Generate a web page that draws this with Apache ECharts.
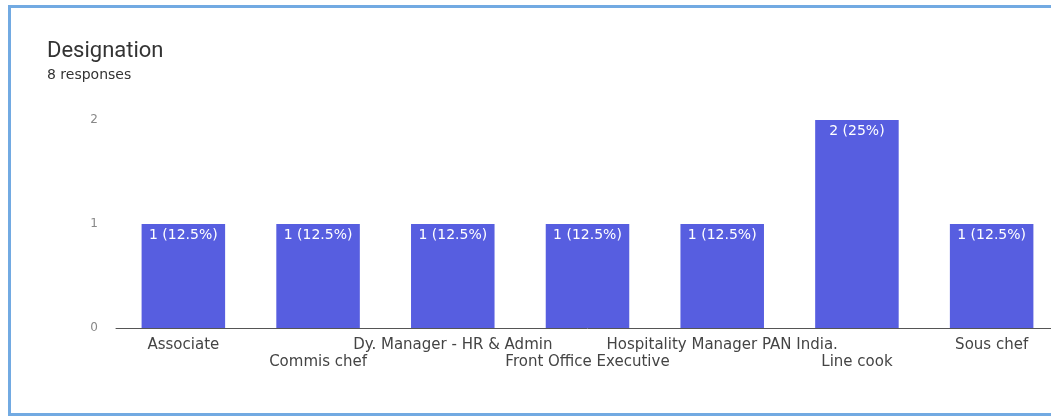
<!DOCTYPE html>
<html>
<head>
<meta charset="utf-8">
<script src="https://cdn.jsdelivr.net/npm/echarts@6/dist/echarts.min.js"></script>
<style>
  html, body { margin: 0; padding: 0; background: #fff; overflow: hidden; width: 1051px; height: 418px; }
  /* the card is cut off on the right in the screenshot, so the canvas runs a bit past the window */
  #chart { width: 1059px; height: 418px; }
</style>
</head>
<body>
<div id="chart"></div>
<script>
var categories = ["Associate", "Commis chef", "Dy. Manager - HR & Admin", "Front Office Executive",
  "Hospitality Manager PAN India.", "Line cook", "Sous chef"];
var counts = [1, 1, 1, 1, 1, 2, 1];
var totalResponses = 8;
var yTicks = [0, 1, 2];

var chart = echarts.init(document.getElementById("chart"));

var option = {
  backgroundColor: "#fff",
  animation: false,
  textStyle: { fontFamily: "DejaVu Sans, sans-serif" },
  graphic: [
    {
      // light blue card border
      type: "rect",
      shape: { x: 9.5, y: 6.5, width: 1100, height: 408 },
      style: { fill: null, stroke: "#72aae2", lineWidth: 3 }
    },
    {
      type: "text",
      left: 47,
      top: 40,
      style: { text: "Designation", fontSize: 22, fill: "#333", fontFamily: "Roboto, sans-serif" }
    },
    {
      type: "text",
      left: 47,
      top: 68,
      style: { text: totalResponses + " responses", fontSize: 14, fill: "#333", fontFamily: "DejaVu Sans, sans-serif" }
    }
  ],
  grid: {
    left: 116,
    right: 0,
    top: 120,
    bottom: 90,
    containLabel: false
  },
  xAxis: {
    type: "category",
    data: categories,
    axisTick: { show: false },
    axisLine: { lineStyle: { color: "#555", width: 1 } },
    axisLabel: {
      interval: 0,
      margin: 9,
      color: "#444",
      fontSize: 15,
      lineHeight: 17,
      formatter: function (val, idx) {
        return idx % 2 === 1 ? "\n" + val : val;
      }
    }
  },
  yAxis: {
    type: "value",
    min: yTicks[0],
    max: yTicks[yTicks.length - 1],
    interval: 1,
    splitLine: { show: false },
    axisLine: { show: false },
    axisTick: { show: false },
    axisLabel: { color: "#888", fontSize: 12, margin: 18 }
  },
  series: [
    {
      type: "bar",
      data: counts,
      barWidth: "62%",
      itemStyle: { color: "#575ee0" },
      label: {
        show: true,
        position: "insideTop",
        distance: 4,
        color: "#fff",
        fontSize: 14,
        formatter: function (p) {
          var pct = p.value / totalResponses * 100;
          return p.value + " (" + (Math.round(pct * 10) / 10) + "%)";
        }
      }
    }
  ]
};

chart.setOption(option);
window.addEventListener("resize", function () {
  chart.resize();
});
</script>
</body>
</html>
